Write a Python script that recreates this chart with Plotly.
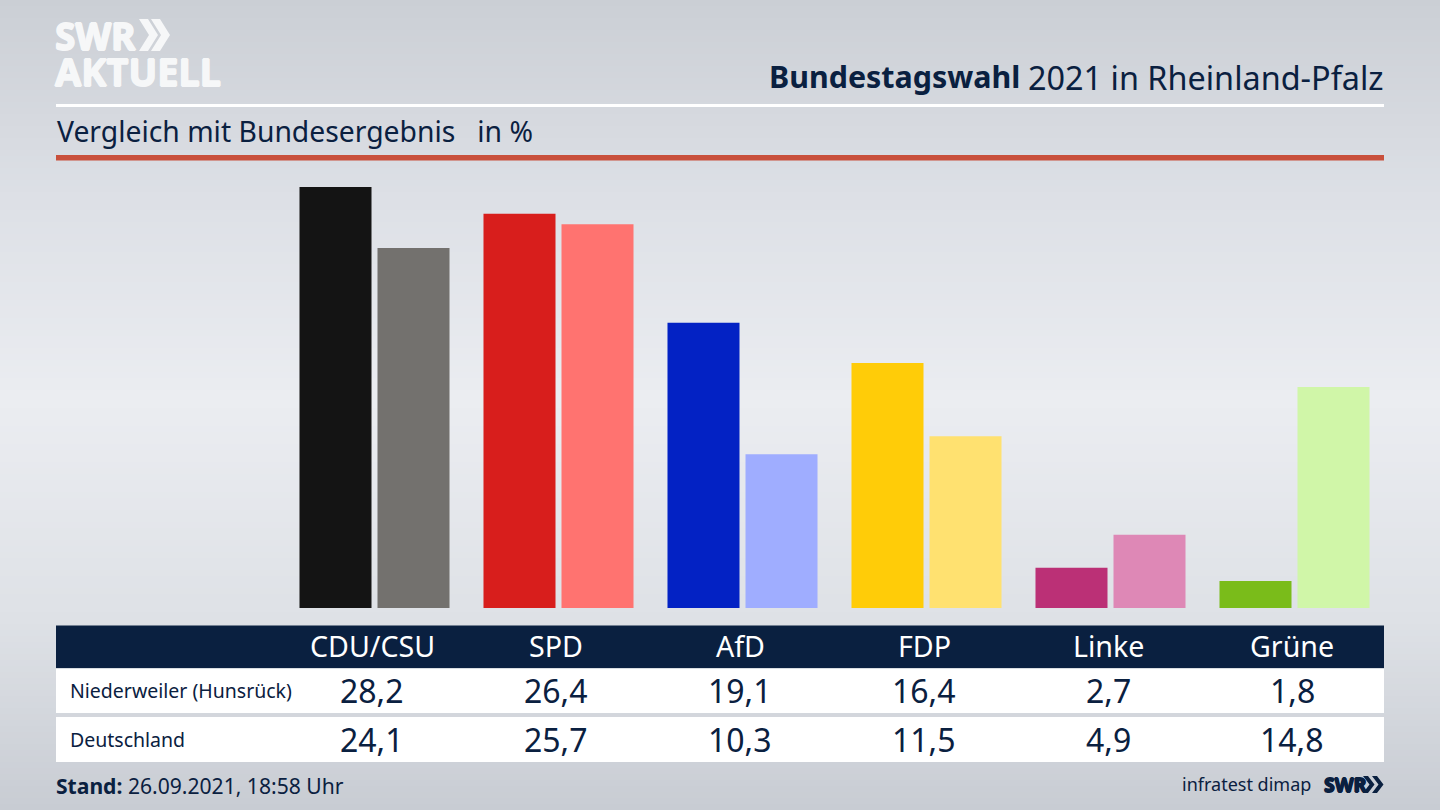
import plotly.graph_objects as go

W, H = 1440, 810
FONT = "Noto Sans"
NAVY = "#0a2040"
LOGO_WHITE = "#f6f7f8"

parties = ["CDU/CSU", "SPD", "AfD", "FDP", "Linke", "Grüne"]
niederweiler = [28.2, 26.4, 19.1, 16.4, 2.7, 1.8]
deutschland = [24.1, 25.7, 10.3, 11.5, 4.9, 14.8]
colors_dark = ["#141414", "#d81e1c", "#0322c4", "#ffcc08", "#bb3076", "#7abc1a"]
colors_light = ["#73716e", "#ff7370", "#9fadff", "#ffe170", "#de88b6", "#d0f6a8"]

# background colour stops: (y in px, grey rgb)
bg_stops = [
    (0, (203, 207, 213)),
    (200, (221, 224, 230)),
    (400, (235, 237, 241)),
    (620, (222, 225, 230)),
    (810, (200, 204, 211)),
]


def px(x):
    return x / W


def py(y):
    return 1 - y / H


def rect(x0, y0, x1, y1, color, layer="below"):
    return dict(
        type="rect", xref="paper", yref="paper", layer=layer,
        x0=px(x0), x1=px(x1), y0=py(y0), y1=py(y1),
        fillcolor=color, line_width=0,
    )


def chevron(x, y0, y1, depth, thick, color):
    # one logo arrow, tip pointing right
    ym = (y0 + y1) / 2
    pts = [(x, y0), (x + thick, y0), (x + thick + depth, ym), (x + thick, y1), (x, y1), (x + depth, ym)]
    path = "M " + " L ".join(f"{px(a):.5f},{py(b):.5f}" for a, b in pts) + " Z"
    return dict(type="path", xref="paper", yref="paper", layer="above",
                path=path, fillcolor=color, line_width=0)


def bg_color(y):
    for (y0, c0), (y1, c1) in zip(bg_stops, bg_stops[1:]):
        if y <= y1:
            t = (y - y0) / (y1 - y0)
            return "rgb(%d,%d,%d)" % tuple(round(a + (b - a) * t) for a, b in zip(c0, c1))
    return "rgb(%d,%d,%d)" % bg_stops[-1][1]


def text(x, y, s, size, color=NAVY, anchor="left", xref="paper", heavy=False):
    font = dict(family=FONT, size=size, color=color)
    if heavy:
        # no black cut installed: thicken the bold with a tight shadow
        font["shadow"] = f"0.8px 0 0 {color},-0.8px 0 0 {color},0 0.8px 0 {color},0 -0.8px 0 {color}"
    ann = dict(
        x=px(x) if xref == "paper" else x, y=py(y), xref=xref, yref="paper",
        text=s, showarrow=False, xanchor=anchor, yanchor="middle", font=font,
    )
    if xref == "x":
        ann["xshift"] = -2.5  # table columns sit slightly left of the bar groups
    return ann


fig = go.Figure()
fig.add_bar(name="Niederweiler (Hunsrück)", x=parties, y=niederweiler, marker_color=colors_dark, marker_line_width=0)
fig.add_bar(name="Deutschland", x=parties, y=deutschland, marker_color=colors_light, marker_line_width=0)

shapes = [rect(0, y, W, y + 6, bg_color(y + 3)) for y in range(0, H, 6)]
shapes += [
    rect(56, 104, 1384, 107, "#ffffff"),
    rect(56, 155, 1384, 160.5, "#c9503c"),
    rect(56, 625.5, 1384, 668, NAVY),
    rect(56, 669, 1384, 713, "#ffffff"),
    rect(56, 717, 1384, 762, "#ffffff"),
    # logo arrows
    chevron(139, 19, 51, 10, 9, LOGO_WHITE),
    chevron(151, 19, 51, 10, 9, LOGO_WHITE),
    chevron(1363, 776, 793, 6.5, 5, NAVY),
    chevron(1372, 776, 793, 6.5, 5, NAVY),
]

annotations = [
    text(53, 36, "<b>SWR</b>", 37, LOGO_WHITE, heavy=True),
    text(53, 71, "<b>AKTUELL</b>", 38, LOGO_WHITE, heavy=True),
    text(767, 76.5, "<b>Bundestagswahl</b>", 30.4),
    text(1386, 76.5, "2021 in Rheinland-Pfalz", 32.4, anchor="right"),
    text(55, 131, "Vergleich mit Bundesergebnis&nbsp;&nbsp;&nbsp;in %", 28.3),
    text(68, 690, "Niederweiler (Hunsrück)", 19.5),
    text(68, 739, "Deutschland", 19.5),
    text(54, 785, "<b>Stand:</b> 26.09.2021, 18:58 Uhr", 21.1),
    text(1313, 784, "infratest dimap", 18, anchor="right"),
    text(1322, 784, "<b>SWR</b>", 19.5, heavy=True),
]
for party, a, b in zip(parties, niederweiler, deutschland):
    annotations.append(text(party, 645, party, 28.6, "#ffffff", "center", "x"))
    annotations.append(text(party, 690, f"{a:.1f}".replace(".", ","), 32, NAVY, "center", "x"))
    annotations.append(text(party, 739, f"{b:.1f}".replace(".", ","), 32, NAVY, "center", "x"))

fig.update_layout(
    width=W, height=H, autosize=False,
    margin=dict(l=0, r=0, t=0, b=0),
    paper_bgcolor="#e6e8ec", plot_bgcolor="rgba(0,0,0,0)",
    barmode="group", bargap=0.152, bargroupgap=0.077,
    showlegend=False,
    shapes=shapes, annotations=annotations,
    xaxis=dict(domain=[px(282.5), px(1386.5)], showticklabels=False, showgrid=False, zeroline=False, ticks=""),
    yaxis=dict(domain=[py(608), py(160)], range=[0, 30], showticklabels=False, showgrid=False, zeroline=False, ticks=""),
)

# the page's default body margin would shift the figure by 8px
fig.write_html(
    "out.html",
    config=dict(displayModeBar=False),
    post_script="document.body.style.margin='0';document.body.style.overflow='hidden';",
)
